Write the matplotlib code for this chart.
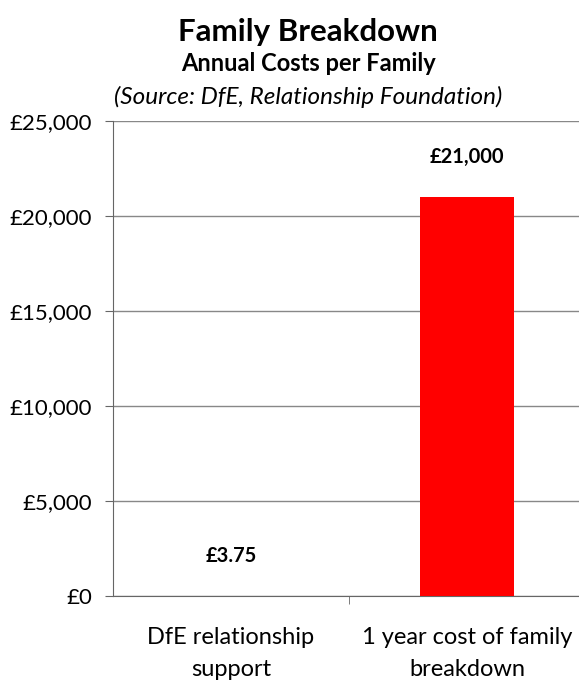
import matplotlib
matplotlib.use("Agg")
import matplotlib.pyplot as plt
from matplotlib.ticker import FuncFormatter, FixedLocator

plt.rcParams['font.family'] = ['Lato', 'DejaVu Sans']

categories = ["DfE relationship\nsupport", "1 year cost of family\nbreakdown"]
costs = [3.75, 21000]
labels = ["£3.75", "£21,000"]
bar_colors = ["#ff0000", "#ff0000"]

fig = plt.figure(figsize=(5.79, 6.83), dpi=100)
ax = fig.add_axes([113 / 579, 1 - 596 / 683, (585 - 113) / 579, 475 / 683])

x = range(len(categories))
ax.bar(x, costs, width=0.4, color=bar_colors, zorder=3)

for xi, v, lab in zip(x, costs, labels):
    ax.annotate(lab, (xi, v), xytext=(0, 29), textcoords="offset points",
                ha="center", va="center", fontsize=14.5, fontweight="bold")

ax.set_xlim(-0.5, 1.5)
ax.set_ylim(0, 25000)
ax.set_yticks(range(0, 25001, 5000))
ax.yaxis.set_major_formatter(FuncFormatter(lambda v, p: "£{:,.0f}".format(v)))
ax.grid(axis="y", color="#888888", linewidth=1, zorder=0)

ax.set_xticks(list(x))
ax.set_xticklabels(categories, fontsize=17, linespacing=1.65)
ax.tick_params(axis="x", which="major", length=0, pad=22)
ax.xaxis.set_minor_locator(FixedLocator([0.5]))
ax.tick_params(axis="x", which="minor", length=6, color="#666666")
ax.tick_params(axis="y", labelsize=16, length=6, color="#666666", pad=9)

for s in ["top", "right"]:
    ax.spines[s].set_visible(False)
for s in ["left", "bottom"]:
    ax.spines[s].set_color("#666666")

fig.text(0.532, 1 - 41 / 683, "Family Breakdown", ha="center", va="baseline",
         fontsize=22.5, fontweight="bold")
fig.text(0.532, 1 - 71 / 683, "Annual Costs per Family", ha="center", va="baseline",
         fontsize=17, fontweight="bold")
fig.text(0.532, 1 - 104 / 683, "(Source: DfE, Relationship Foundation)", ha="center",
         va="baseline", fontsize=17.5, fontstyle="italic")

fig.savefig("out.png", dpi=100)
